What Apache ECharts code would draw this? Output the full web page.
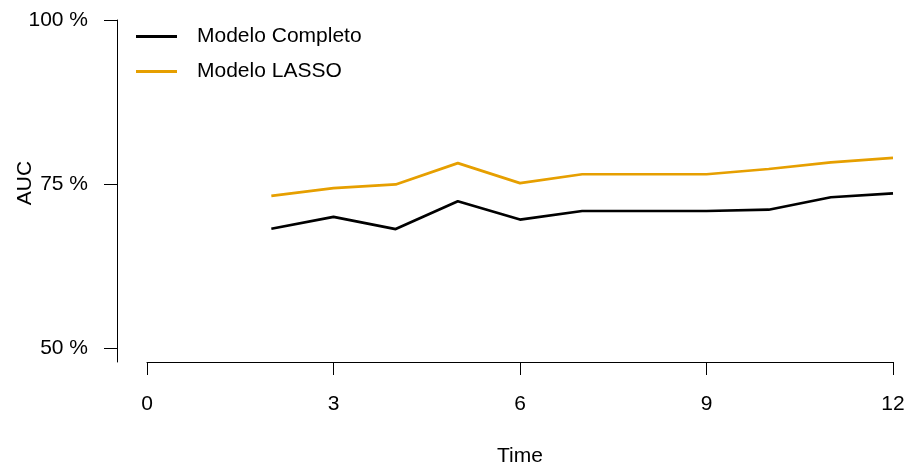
<!DOCTYPE html>
<html>
<head>
<meta charset="utf-8">
<script src="https://cdn.jsdelivr.net/npm/echarts@6/dist/echarts.min.js"></script>
<style>html,body{margin:0;padding:0;background:#fff;}#c{width:908px;height:466px;}</style>
</head>
<body>
<div id="c"></div>
<script>
const times = [2, 3, 4, 5, 6, 7, 8, 9, 10, 11, 12];
const completo = [68.2, 70.0, 68.15, 72.4, 69.6, 70.9, 70.9, 70.9, 71.1, 73.0, 73.6];
const lasso = [73.2, 74.4, 74.95, 78.2, 75.15, 76.5, 76.5, 76.5, 77.3, 78.3, 79.0];
const xTicks = [0, 3, 6, 9, 12];
const yTicks = [50, 75, 100];
const seriesNames = ['Modelo Completo', 'Modelo LASSO'];
const colors = ['#000000', '#E69F00'];

const font = 'Liberation Sans, Arial, sans-serif';
const chart = echarts.init(document.getElementById('c'));
chart.setOption({
  animation: false,
  backgroundColor: '#ffffff',
  textStyle: { fontFamily: font },
  grid: { left: 147, right: 15, top: 20, bottom: 104, containLabel: false, outerBoundsMode: 'none' },
  legend: {
    orient: 'vertical',
    left: 131,
    top: 21,
    icon: 'rect',
    itemWidth: 41,
    itemHeight: 3,
    itemGap: 14,
    data: seriesNames,
    textStyle: { fontSize: 21, color: '#000', fontFamily: font, padding: [0, 0, 0, 15] }
  },
  xAxis: {
    type: 'value',
    min: 0, max: 12, interval: 3,
    name: 'Time',
    nameLocation: 'middle',
    nameGap: 84,
    nameTextStyle: { fontSize: 21, color: '#000', fontFamily: font },
    axisLine: { show: true, onZero: false, lineStyle: { color: '#000', width: 1 } },
    axisTick: { show: true, length: 13, lineStyle: { color: '#000', width: 1 }, customValues: xTicks },
    axisLabel: { fontSize: 21, color: '#000', margin: 32, fontFamily: font, customValues: xTicks },
    splitLine: { show: false }
  },
  yAxis: {
    type: 'value',
    min: 47.9, max: 100,
    offset: 30,
    axisLine: { show: true, onZero: false, lineStyle: { color: '#000', width: 1 } },
    axisTick: { show: true, length: 13, lineStyle: { color: '#000', width: 1 }, customValues: yTicks },
    axisLabel: { fontSize: 21, color: '#000', margin: 29, fontFamily: font, customValues: yTicks,
      formatter: v => v + ' %' },
    splitLine: { show: false }
  },
  graphic: [{
    type: 'text',
    x: 25, y: 183,
    rotation: Math.PI / 2,
    style: { text: 'AUC', fontSize: 21, fill: '#000', fontFamily: font, align: 'center', verticalAlign: 'middle' }
  }],
  series: [
    { name: seriesNames[0], type: 'line', data: times.map((t, i) => [t, completo[i]]),
      showSymbol: false, lineStyle: { color: colors[0], width: 2.7 }, itemStyle: { color: colors[0] } },
    { name: seriesNames[1], type: 'line', data: times.map((t, i) => [t, lasso[i]]),
      showSymbol: false, lineStyle: { color: colors[1], width: 2.7 }, itemStyle: { color: colors[1] } }
  ]
});
</script>
</body>
</html>
